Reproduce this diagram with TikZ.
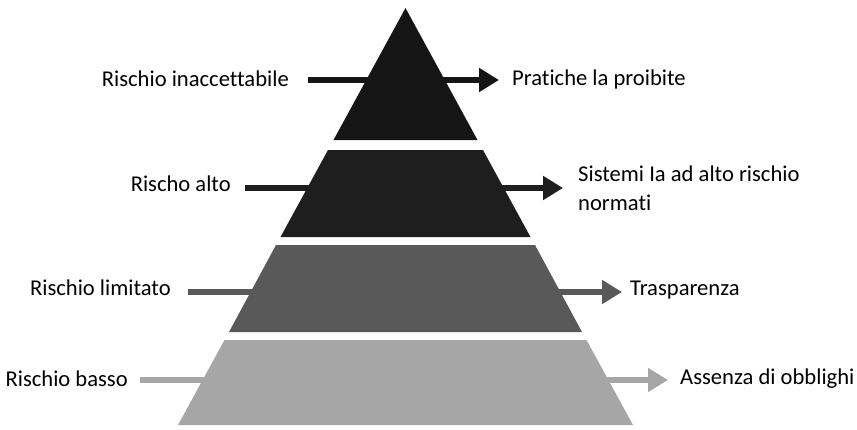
\documentclass[tikz,border=0pt]{standalone}
\usepackage{fontspec}
\setmainfont{Carlito}[Ligatures=NoCommon]
\usetikzlibrary{arrows.meta}
\definecolor{cA}{HTML}{151515}
\definecolor{cB}{HTML}{1E1E1E}
\definecolor{cC}{HTML}{595959}
\definecolor{cD}{HTML}{A6A6A6}
\tikzset{
  lbl/.style={font=\fontsize{22.6}{29}\selectfont, inner sep=0pt, text=black},
  arr/.style={line width=6.5pt, -{Triangle[length=20pt,width=23pt]}},
}
\begin{document}
\begin{tikzpicture}[x=1pt,y=-1pt]
\useasboundingbox (0,0) rectangle (857,429);
% arrows (behind pyramid)
\coordinate (s1) at (308,80);  \coordinate (e1) at (499,80);
\coordinate (s2) at (245,188); \coordinate (e2) at (563,188);
\coordinate (s3) at (188,292); \coordinate (e3) at (622,292);
\coordinate (s4) at (140,380); \coordinate (e4) at (668,380);
\draw[arr, cA] (s1) -- (e1);
\draw[arr, cB] (s2) -- (e2);
\draw[arr, cC] (s3) -- (e3);
\draw[arr, cD] (s4) -- (e4);
% pyramid bands
\fill[cA] (405.5,8) -- (477.5,140) -- (333.5,140) -- cycle;
\fill[cB] (328,150) -- (483,150) -- (530.5,237) -- (280.5,237) -- cycle;
\fill[cC] (276,245) -- (535,245) -- (582,332) -- (229,332) -- cycle;
\fill[cD] (224.5,340) -- (586.5,340) -- (633,425) -- (178,425) -- cycle;
% left labels
\node[lbl, anchor=east] (l1) at (289,79) {Rischio inaccettabile};
\node[lbl, anchor=east] (l2) at (231,184) {Rischo alto};
\node[lbl, anchor=east] (l3) at (171,288) {Rischio limitato};
\node[lbl, anchor=east] (l4) at (128,379) {Rischio basso};
% right labels
\node[lbl, anchor=west] (r1) at (512,79) {Pratiche la proibite};
\node[lbl, anchor=west, align=left] (r2) at (578,188) {Sistemi Ia ad alto rischio\\normati};
\node[lbl, anchor=west] (r3) at (630,290) {Trasparenza};
\node[lbl, anchor=west] (r4) at (680,379) {Assenza di obblighi};
\end{tikzpicture}
\end{document}
